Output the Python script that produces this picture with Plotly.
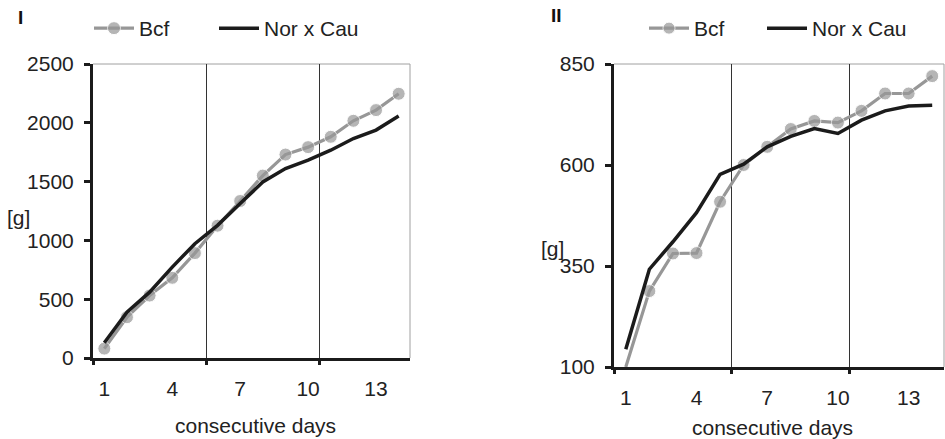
import plotly.graph_objects as go

days = list(range(1, 15))
tick_days = [1, 4, 7, 10, 13]
bound_days = [0.5, 5.5, 10.5]

bcf_I = [80, 347, 531, 682, 892, 1125, 1335, 1551, 1730, 1793, 1881, 2017, 2108, 2247]
nor_I = [130, 389, 560, 773, 972, 1128, 1313, 1497, 1611, 1682, 1767, 1866, 1938, 2057]

bcf_II = [100, 288, 381, 382, 509, 600, 645, 689, 709, 705, 734, 777, 777, 820]
nor_II = [144, 342, 410, 482, 577, 602, 645, 671, 690, 678, 711, 734, 746, 748]

GRAY = "#979797"
BLACK = "#1b1b1b"
FONT = "Liberation Sans, Arial, sans-serif"
FS = 21

fig = go.Figure()

msize_I = [13] * len(days)
msize_II = [0] + [13] * (len(days) - 1)

fig.add_trace(go.Scatter(x=days, y=bcf_I, name="Bcf", mode="lines+markers",
                         line=dict(color=GRAY, width=3.2), marker=dict(color=GRAY, size=msize_I),
                         xaxis="x", yaxis="y", legend="legend"))
fig.add_trace(go.Scatter(x=days, y=nor_I, name="Nor x Cau", mode="lines",
                         line=dict(color=BLACK, width=3.5), xaxis="x", yaxis="y", legend="legend2"))
fig.add_trace(go.Scatter(x=days, y=bcf_II, name="Bcf", mode="lines+markers",
                         line=dict(color=GRAY, width=3.2), marker=dict(color=GRAY, size=msize_II),
                         xaxis="x2", yaxis="y2", legend="legend3"))
fig.add_trace(go.Scatter(x=days, y=nor_II, name="Nor x Cau", mode="lines",
                         line=dict(color=BLACK, width=3.5), xaxis="x2", yaxis="y2", legend="legend4"))

W, H = 945, 439
dI = dict(x=[93 / W, 410 / W], y=[(H - 358) / H, (H - 64) / H])
dII = dict(x=[614 / W, 944 / W], y=[(H - 367) / H, (H - 64) / H])

xcommon = dict(range=[0.5, 14.5], tickvals=tick_days, ticktext=[str(d) for d in tick_days],
               ticks="", showgrid=False, zeroline=False, showline=True, linecolor=BLACK,
               linewidth=3, tickfont=dict(size=FS, color="#222"), ticklabelstandoff=10,
               automargin=False)
xgrid = dict(range=[0.5, 14.5], tickvals=bound_days, ticks="outside", ticklen=6, tickwidth=3,
             tickcolor=BLACK, showticklabels=False, showgrid=True, gridcolor="#333",
             gridwidth=1, zeroline=False, showline=False, automargin=False)
ycommon = dict(ticks="outside", ticklen=6, tickwidth=3, tickcolor=BLACK, showgrid=False,
               zeroline=False, showline=True, linecolor=BLACK, linewidth=3,
               tickfont=dict(size=FS, color="#222"), ticklabelstandoff=6, automargin=False)

leg = dict(orientation="h", xanchor="left", yanchor="top", font=dict(size=FS, color="#222"),
           bgcolor="rgba(0,0,0,0)", y=1 - 8 / H, itemwidth=40)

fig.update_layout(
    width=W, height=H, margin=dict(l=0, r=0, t=0, b=0, autoexpand=False),
    paper_bgcolor="white", plot_bgcolor="white",
    font=dict(family=FONT, color="#222"),
    xaxis=dict(domain=dI["x"], anchor="y", **xcommon),
    yaxis=dict(domain=dI["y"], anchor="x", range=[0, 2500], dtick=500, **ycommon),
    xaxis3=dict(overlaying="x", anchor="y", **xgrid),
    xaxis2=dict(domain=dII["x"], anchor="y2", **xcommon),
    yaxis2=dict(domain=dII["y"], anchor="x2", range=[100, 850], tickvals=[100, 350, 600, 850], **ycommon),
    xaxis4=dict(overlaying="x2", anchor="y2", **xgrid),
    legend=dict(x=89 / W, **leg),
    legend2=dict(x=214 / W, **leg),
    legend3=dict(x=644 / W, **leg),
    legend4=dict(x=762 / W, **leg),
    showlegend=True,
)

# invisible traces to activate grid axes
fig.add_trace(go.Scatter(x=[None], y=[None], xaxis="x3", yaxis="y", showlegend=False, hoverinfo="skip"))
fig.add_trace(go.Scatter(x=[None], y=[None], xaxis="x4", yaxis="y2", showlegend=False, hoverinfo="skip"))

# thin gray border on top and right of plot areas
for xr, yr in [("x", "y"), ("x2", "y2")]:
    fig.add_shape(type="line", xref=f"{xr} domain", yref=f"{yr} domain", x0=0, x1=1, y0=1, y1=1,
                  line=dict(color="#a0a0a0", width=1), layer="below")
    fig.add_shape(type="line", xref=f"{xr} domain", yref=f"{yr} domain", x0=1, x1=1, y0=0, y1=1,
                  line=dict(color="#a0a0a0", width=1), layer="below")

ann = [
    dict(text="<b>I</b>", x=20 / W, y=1 - 18 / H, font=dict(size=19, color="#111")),
    dict(text="<b>II</b>", x=556 / W, y=1 - 16 / H, font=dict(size=19, color="#111")),
    dict(text="[g]", x=18 / W, y=1 - 217 / H, font=dict(size=FS)),
    dict(text="[g]", x=552 / W, y=1 - 248 / H, font=dict(size=FS)),
    dict(text="consecutive days", x=255 / W, y=1 - 425 / H, font=dict(size=FS)),
    dict(text="consecutive days", x=772 / W, y=1 - 427 / H, font=dict(size=FS)),
]
for a in ann:
    fig.add_annotation(xref="paper", yref="paper", showarrow=False, xanchor="center",
                       yanchor="middle", **a)

fig.write_html("out.html", config={"displayModeBar": False},
               post_script="document.body.style.margin='0';document.body.style.overflow='hidden';")
